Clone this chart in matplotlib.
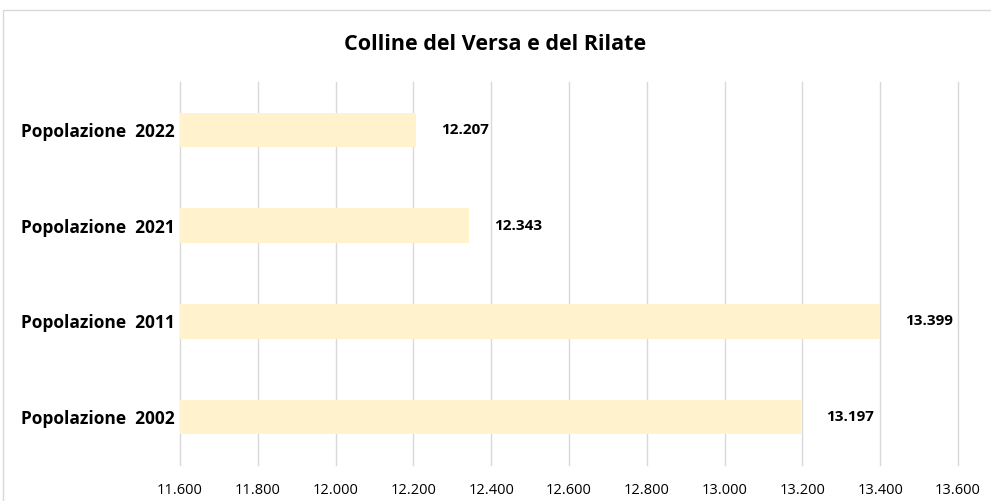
import matplotlib
matplotlib.use("Agg")
import matplotlib.pyplot as plt
from matplotlib.patches import Rectangle
from matplotlib.ticker import FuncFormatter, MultipleLocator

categories = ["Popolazione  2022", "Popolazione  2021", "Popolazione  2011", "Popolazione  2002"]
values = [12207, 12343, 13399, 13197]
title = "Colline del Versa e del Rilate"

FONT = ["Open Sans", "DejaVu Sans"]
plt.rcParams['font.family'] = FONT

def fmt(v, pos=None):
    return f"{int(v):,}".replace(",", ".")

W, H = 991, 501
fig = plt.figure(figsize=(W/100, H/100), dpi=100)
fig.patch.set_facecolor("white")
# chart border
fig.add_artist(Rectangle((3/W, -0.1), 1.2, (H-10)/H + 0.1, transform=fig.transFigure,
                         fill=False, edgecolor="#D9D9D9", linewidth=1))

ax = fig.add_axes([180/W, 1 - 465/H, (958-180)/W, (465-82)/H])
y = list(range(len(categories)))
ax.barh(y, [v - 11600 for v in values], left=11600, height=0.36, color="#FFF2CC", zorder=2)
ax.set_xlim(11600, 13600)
ax.set_ylim(len(categories) - 0.5, -0.5)
ax.xaxis.set_major_locator(MultipleLocator(200))
ax.xaxis.set_major_formatter(FuncFormatter(fmt))
ax.grid(axis="x", color="#D9D9D9", linewidth=1, zorder=0)
for gl in ax.get_xgridlines():
    gl.set_clip_on(False)
for s in ax.spines.values():
    s.set_visible(False)
ax.tick_params(axis="both", length=0)
ax.tick_params(axis="x", labelsize=10.5, colors="#000000", pad=13)
ax.set_yticks(y)
ax.set_yticklabels(categories, fontsize=12.5, fontweight="bold")
ax.tick_params(axis="y", pad=4)

for yi, v in zip(y, values):
    ax.annotate(fmt(v), xy=(v, yi), xytext=(18, 0), textcoords="offset points",
                va="center", ha="left", fontsize=11, fontweight="bold")

fig.text(495/W, 1 - 45/H, title, ha="center", va="center", fontsize=15.5, fontweight="bold")

fig.savefig("out.png", dpi=100)
